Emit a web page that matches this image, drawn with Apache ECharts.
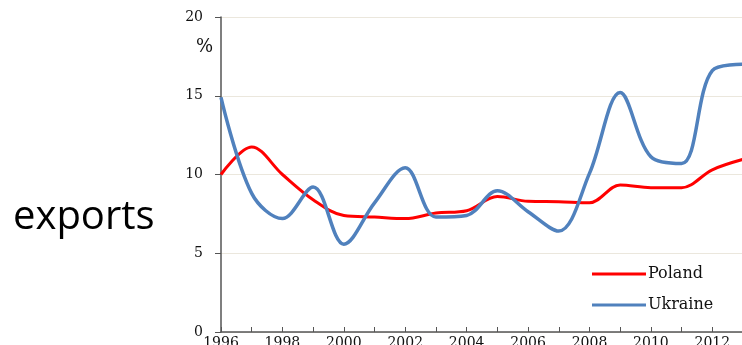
<!DOCTYPE html>
<html><head><meta charset="utf-8">
<script src="https://cdn.jsdelivr.net/npm/echarts@6/dist/echarts.min.js"></script>
<style>html,body{margin:0;padding:0;background:#fff}#c{width:742px;height:345px}</style>
</head><body><div id="c"></div>
<script>
const years = [1996,1997,1998,1999,2000,2001,2002,2003,2004,2005,2006,2007,2008,2009,2010,2011,2012,2013];
const poland = [10.0,11.75,10.0,8.4,7.4,7.3,7.2,7.55,7.7,8.6,8.3,8.27,8.2,9.33,9.16,9.16,10.3,10.96];
const ukraine = [14.9,8.8,7.2,9.2,5.57,8.2,10.43,7.3,7.4,8.97,7.64,6.41,10.07,15.2,11.13,10.7,16.6,17.0];
const yTicks = [0,5,10,15,20];
const seriesNames = ['Poland','Ukraine'];
const sideLabel = 'exports';
const unitLabel = '%';

const chart = echarts.init(document.getElementById('c'));
const serif = 'DejaVu Serif';
chart.setOption({
  animation:false,
  grid:{left:221,right:-1,top:17,bottom:13,containLabel:false,outerBoundsMode:'none'},
  xAxis:{type:'value',min:1996,max:2013,interval:1,
    axisLine:{lineStyle:{color:'#555',width:1.5}},
    axisTick:{inside:true,length:5,lineStyle:{color:'#555'}},
    axisLabel:{margin:4,fontFamily:serif,fontSize:14,color:'#111',hideOverlap:false,
      formatter:v=> (v%2===0 && v<2013) ? String(v) : ''},
    splitLine:{show:false}},
  yAxis:{type:'value',min:yTicks[0],max:yTicks[yTicks.length-1],interval:5,
    axisLine:{show:true,lineStyle:{color:'#555',width:1.5}},
    axisTick:{show:true,length:6,lineStyle:{color:'#555'}},
    axisLabel:{margin:18,fontFamily:serif,fontSize:14,color:'#111'},
    splitLine:{lineStyle:{color:'#ebe7dd',width:1}}},
  legend:{orient:'vertical',left:587,top:261,itemGap:15,itemWidth:54,itemHeight:3,
    icon:'rect',textStyle:{fontFamily:serif,fontSize:16,color:'#111',padding:[0,0,0,-3]},
    data:seriesNames},
  graphic:[
    {type:'text',left:13,top:198,style:{text:sideLabel,font:'40px "Open Sans"',fill:'#000'}},
    {type:'text',left:196,top:38,style:{text:unitLabel,font:'18px "DejaVu Serif"',fill:'#111'}}
  ],
  series:[
    {name:seriesNames[0],type:'line',smooth:0.35,showSymbol:false,
      data:years.map((y,i)=>[y,poland[i]]),lineStyle:{color:'#ff0000',width:3},itemStyle:{color:'#ff0000'}},
    {name:seriesNames[1],type:'line',smooth:0.35,showSymbol:false,
      data:years.map((y,i)=>[y,ukraine[i]]),lineStyle:{color:'#5081bd',width:3.5},itemStyle:{color:'#5081bd'}}
  ]
});
</script></body></html>
